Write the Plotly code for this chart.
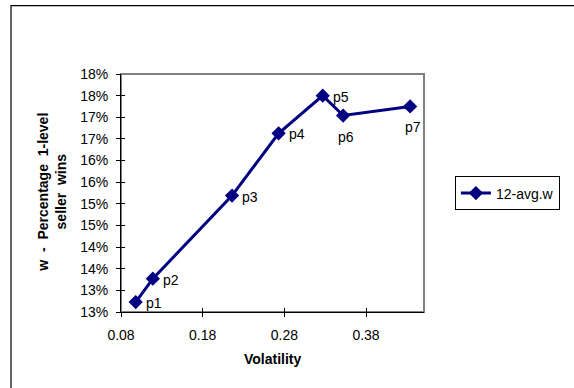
import plotly.graph_objects as go

# ---- data ----
volatility = [0.098, 0.119, 0.216, 0.273, 0.327, 0.352, 0.434]
pct_wins = [0.1273, 0.1327, 0.1519, 0.1663, 0.1750, 0.1704, 0.1725]
point_labels = ["p1", "p2", "p3", "p4", "p5", "p6", "p7"]
label_side = ["right", "right", "right", "right", "right", "below", "below"]
series_name = "12-avg.w"

x_tickvals = [0.08, 0.18, 0.28, 0.38]
x_ticktext = ["0.08", "0.18", "0.28", "0.38"]
y_tickvals = [0.125, 0.13, 0.135, 0.14, 0.145, 0.15, 0.155, 0.16, 0.165, 0.17, 0.175, 0.18]
y_ticktext = ["13%", "13%", "14%", "14%", "15%", "15%", "16%", "16%", "17%", "17%", "18%", "18%"]
x_range = [0.08, 0.451]
y_range = [0.125, 0.18]

FONT = "Liberation Sans, Arial, sans-serif"
NAVY = "#000080"
FS = 14

# label placement styles
LABEL_STYLE = {
    "right": dict(xanchor="left", yanchor="middle", xshift=8, yshift=-1),
    "below": dict(xanchor="center", yanchor="middle", xshift=3, yshift=-21),
}

fig = go.Figure()
fig.add_trace(go.Scatter(
    x=volatility, y=pct_wins, mode="lines+markers",
    name=series_name,
    line=dict(color=NAVY, width=3),
    marker=dict(symbol="diamond", size=11, color=NAVY),
))
# invisible helper trace so the overlay axes (inside half of the cross ticks) are drawn
fig.add_trace(go.Scatter(
    x=volatility[:1], y=pct_wins[:1], xaxis="x2", yaxis="y2",
    mode="markers", marker=dict(opacity=0), showlegend=False, hoverinfo="skip",
))

annotations = []
for xv, yv, lab, side in zip(volatility, pct_wins, point_labels, label_side):
    annotations.append(dict(x=xv, y=yv, xref="x", yref="y", text=lab, showarrow=False,
                            font=dict(family=FONT, size=FS, color="#000000"),
                            **LABEL_STYLE[side]))
annotations += [
    dict(text="Volatility", xref="paper", yref="paper", x=0.5, y=-0.199,
         xanchor="center", yanchor="middle", showarrow=False,
         font=dict(family=FONT, size=FS, color="#000000", weight="bold")),
    dict(text="w  -  Percentage  1-level<br>seller  wins", xref="paper", yref="paper",
         x=-0.229, y=0.504, xanchor="center", yanchor="middle", showarrow=False,
         textangle=-90,
         font=dict(family=FONT, size=FS, color="#000000", weight="bold")),
]

axis_common = dict(showgrid=False, zeroline=False, tickcolor="#000000", tickwidth=1)

fig.update_layout(
    width=574, height=388,
    margin=dict(l=121, r=150, t=74, b=76),
    paper_bgcolor="white", plot_bgcolor="white",
    font=dict(family=FONT, size=FS, color="#000000"),
    showlegend=True,
    legend=dict(
        x=1.102, y=0.498, xanchor="left", yanchor="middle",
        bordercolor="#000000", borderwidth=1, bgcolor="white",
        font=dict(family=FONT, size=FS, color="#000000"),
        itemwidth=30, tracegroupgap=0,
    ),
    xaxis=dict(range=x_range, tickvals=x_tickvals, ticktext=x_ticktext,
               ticks="outside", ticklen=4, showline=True, linecolor="#000000", linewidth=1,
               ticklabelstandoff=6, **axis_common),
    yaxis=dict(range=y_range, tickvals=y_tickvals, ticktext=y_ticktext,
               ticks="outside", ticklen=4, showline=True, linecolor="#000000", linewidth=1,
               ticklabelstandoff=5, **axis_common),
    xaxis2=dict(range=x_range, tickvals=x_tickvals, overlaying="x", anchor="y", side="bottom",
                ticks="inside", ticklen=4, showticklabels=False, showline=False, **axis_common),
    yaxis2=dict(range=y_range, tickvals=y_tickvals, overlaying="y", anchor="x", side="left",
                ticks="inside", ticklen=4, showticklabels=False, showline=False, **axis_common),
    shapes=[
        dict(type="rect", xref="paper", yref="paper", x0=0, y0=0, x1=1, y1=1,
             line=dict(color="#808080", width=2), layer="below"),
        dict(type="path", xref="paper", yref="paper",
             path="M -0.363 -0.4 L -0.363 1.2877 L 1.6 1.2877",
             line=dict(color="#000000", width=1.2)),
    ],
    annotations=annotations,
)

fig.write_html("out.html", config={"displayModeBar": False})
